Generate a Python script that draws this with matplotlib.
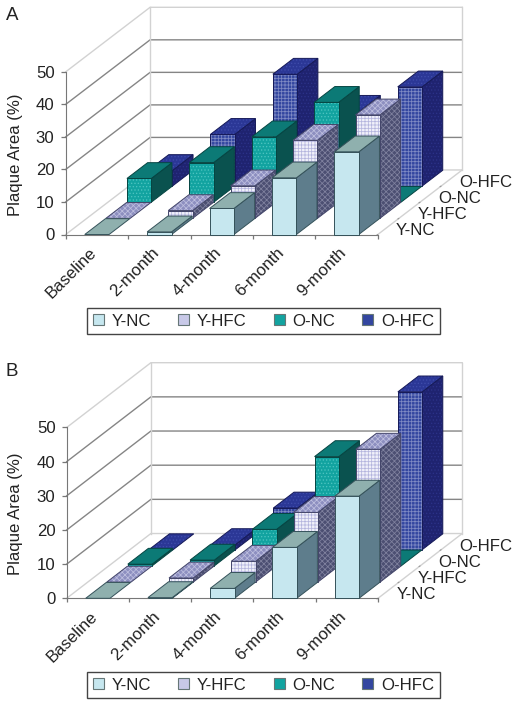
import matplotlib
matplotlib.use("Agg")
import matplotlib.pyplot as plt
from matplotlib.patches import Polygon, Patch

plt.rcParams['font.family'] = ['Liberation Sans', 'DejaVu Sans']
plt.rcParams['hatch.linewidth'] = 0.55

categories = ['Baseline', '2-month', '4-month', '6-month', '9-month']
series_names = ['Y-NC', 'Y-HFC', 'O-NC', 'O-HFC']
y_ticks = [0, 10, 20, 30, 40, 50]

a_y_nc = [0, 0.8, 8.0, 17.4, 25.4]
a_y_hfc = [0, 2.4, 10.0, 24.0, 31.8]
a_o_nc = [7.3, 12.2, 20.1, 30.7, 0]
a_o_hfc = [4.8, 15.9, 34.4, 23.0, 30.5]

b_y_nc = [0, 0.2, 2.9, 14.9, 29.9]
b_y_hfc = [0, 1.2, 6.1, 20.4, 38.9]
b_o_nc = [0.5, 1.7, 10.7, 32.0, 0]
b_o_hfc = [0, 1.5, 12.2, 15.0, 46.2]

W, H = 517, 705
FS = 12.1
styles = [
    dict(front='#c6e7ef', side='#5e7d8c', top='#8fb0ae', fh=None, sh=None, th=None,
         hc='#c6e7ef', sc='#5e7d8c', tc='#8fb0ae', line='#35525a', swatch='#c6e7ef'),
    dict(front='#f0f0fa', side='#4c4f72', top='#8d8fc0', fh='+++++', sh='xxxxxx', th='xxxxxx',
         hc='#b4b5de', sc='#80829f', tc='#bebfdf', line='#44466a', swatch='#c8c9e8'),
    dict(front='#12a3a0', side='#0a524f', top='#0c7a76', fh='.....', sh=None, th=None,
         hc='#4cc4c0', sc='#0a524f', tc='#0c7a76', line='#064542', swatch='#12a3a0'),
    dict(front='#3346a0', side='#1f2370', top='#2b3796', fh='+++++', sh='.....', th='.....',
         hc='#7f8ac4', sc='#2c3288', tc='#3f4cab', line='#161a58', swatch='#3346a0'),
]


def poly(ax, pts, fc, hatch, hc, line, z):
    ax.add_patch(Polygon(pts, closed=True, facecolor=fc, edgecolor=hc if hatch else fc,
                         hatch=hatch, lw=0, zorder=z, clip_on=False))
    ax.add_patch(Polygon(pts, closed=True, fill=False, edgecolor=line, lw=0.7,
                         zorder=z + 0.001, clip_on=False))


def panel(box, values, sx, sy, letter, label_y, ylab_y, legend_y):
    left, right, top, bottom = box
    ax = fig.add_axes([left / W, 1 - bottom / H, (right - left) / W, (bottom - top) / H])
    ax.patch.set_alpha(0)
    n = len(series_names)
    xmax = 5 + n * sx
    ymax = 50 + n * sy
    ax.set_xlim(0, xmax)
    ax.set_ylim(0, ymax)

    def p(x, d, v):
        return (x + d * sx, v + d * sy)

    light = '#d2d2d2'
    dark = '#858585'
    # walls and gridlines
    for v in y_ticks:
        c = light if v in (0, 50) else dark
        xs = [p(0, 0, v)[0], p(0, n, v)[0], p(5, n, v)[0]]
        ys = [p(0, 0, v)[1], p(0, n, v)[1], p(5, n, v)[1]]
        ax.plot(xs, ys, color=c, lw=1.0, zorder=1, clip_on=False)
    for x in (0, 5):
        ax.plot([p(x, n, 0)[0], p(x, n, 50)[0]], [p(x, n, 0)[1], p(x, n, 50)[1]],
                color=light, lw=1.0, zorder=1, clip_on=False)
    ax.plot([p(5, 0, 0)[0], p(5, n, 0)[0]], [p(5, 0, 0)[1], p(5, n, 0)[1]],
            color=light, lw=1.0, zorder=1, clip_on=False)

    # bars, from back to front
    half = 0.195
    z = 2.0
    for s in range(n - 1, -1, -1):
        st = styles[s]
        for c, val in enumerate(values[s]):
            x0, x1 = c + 0.5 - half, c + 0.5 + half
            d0, d1 = s, s + 0.98
            z += 0.01
            if val > 0:
                poly(ax, [p(x1, d0, 0), p(x1, d1, 0), p(x1, d1, val), p(x1, d0, val)],
                     st['side'], st['sh'], st['sc'], st['line'], z)
                poly(ax, [p(x0, d0, 0), p(x1, d0, 0), p(x1, d0, val), p(x0, d0, val)],
                     st['front'], st['fh'], st['hc'], st['line'], z + 0.002)
            poly(ax, [p(x0, d0, val), p(x1, d0, val), p(x1, d1, val), p(x0, d1, val)],
                 st['top'], st['th'], st['tc'], st['line'], z + 0.004)

    # axes
    for side in ('top', 'right'):
        ax.spines[side].set_visible(False)
    ax.spines['left'].set_bounds(0, 50)
    ax.spines['bottom'].set_bounds(0, 5)
    ax.spines['left'].set_color('#777777')
    ax.spines['bottom'].set_color('#777777')
    ax.spines['left'].set_zorder(1.5)
    ax.spines['bottom'].set_zorder(1.5)
    ax.set_yticks(y_ticks)
    ax.set_yticklabels([str(v) for v in y_ticks], fontsize=FS, color='#222222')
    ax.tick_params(axis='y', length=3.5, width=0.9, color='#777777', pad=4.5)
    ax.set_xticks(range(6))
    ax.set_xticklabels([''] * 6)
    ax.tick_params(axis='x', which='major', length=3, width=0.9, color='#777777')
    ax.set_xticks([i + 0.37 for i in range(5)], minor=True)
    ax.set_xticklabels(categories, minor=True, rotation=45, ha='right', va='top',
                       rotation_mode='anchor', fontsize=FS, color='#222222')
    ax.tick_params(axis='x', which='minor', length=0, pad=7.5)

    # depth axis labels and ticks
    for i, name in enumerate(series_names):
        xy = p(5, i, 0)
        ax.annotate('', xy=xy, xytext=(-2.5, -1.5), textcoords='offset points',
                    arrowprops=dict(arrowstyle='-', color='#999999', lw=0.8), zorder=1,
                    annotation_clip=False)
        ax.annotate(name, xy=xy, xytext=(13.2, 2.6), textcoords='offset points',
                    ha='left', va='center', fontsize=FS, color='#222222',
                    annotation_clip=False)

    fig.text(12 / W, 1 - label_y / H, letter, fontsize=13.5, ha='center', va='center', color='#222222')
    fig.text(16 / W, 1 - ylab_y / H, 'Plaque Area (%)', fontsize=FS, rotation=90,
             ha='center', va='center', color='#222222')

    handles = [Patch(facecolor=st['swatch'], edgecolor='#667777', lw=0.8) for st in styles]
    leg = fig.legend(handles=handles, labels=series_names, ncol=4, loc='center',
                     bbox_to_anchor=(263.5 / W, 1 - legend_y / H), fontsize=FS,
                     fancybox=False, edgecolor='#444444', framealpha=1,
                     handlelength=0.67, handleheight=0.67, handletextpad=0.45,
                     columnspacing=1.6, borderpad=0.35, labelcolor='#222222')
    leg.get_frame().set_linewidth(1.0)


fig = plt.figure(figsize=(W / 100, H / 100), dpi=100, facecolor='white')

panel((65.7, 462.2, 7.3, 234.5), [a_y_nc, a_y_hfc, a_o_nc, a_o_hfc],
      0.338, 4.96, 'A', 15, 155, 321)
panel((66.7, 462.2, 362.7, 598.3), [b_y_nc, b_y_hfc, b_o_nc, b_o_hfc],
      0.338, 4.74, 'B', 371, 514, 685)

fig.savefig('out.png', dpi=100)
